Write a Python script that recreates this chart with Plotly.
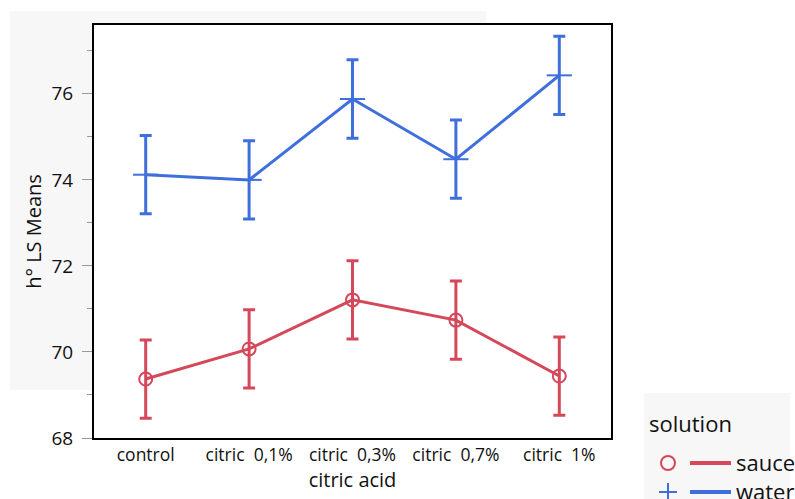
import plotly.graph_objects as go

# Least-squares means of hue angle (h°) by citric acid level and soaking solution
categories = ["control", "citric\u00a0 0,1%", "citric\u00a0 0,3%", "citric\u00a0 0,7%", "citric\u00a0 1%"]
sauce_means = [69.37, 70.07, 71.21, 70.74, 69.44]
sauce_err = [0.91, 0.91, 0.91, 0.91, 0.91]
water_means = [74.12, 74.00, 75.88, 74.48, 76.43]
water_err = [0.91, 0.91, 0.91, 0.91, 0.91]

SAUCE = "#d4485a"
WATER = "#3f6fdc"
FONT = "Open Sans"

fig = go.Figure()

fig.add_trace(go.Scatter(
    x=categories, y=sauce_means, name="sauce", mode="lines+markers",
    line=dict(color=SAUCE, width=3),
    marker=dict(symbol="circle-open", size=13, color=SAUCE, line=dict(width=2, color=SAUCE)),
    error_y=dict(type="data", array=sauce_err, color=SAUCE, thickness=3, width=6),
    showlegend=False,
))
fig.add_trace(go.Scatter(
    x=categories, y=water_means, name="water", mode="lines+markers",
    line=dict(color=WATER, width=3),
    marker=dict(symbol="line-ew-open", size=18, color=WATER, line=dict(width=2, color=WATER)),
    error_y=dict(type="data", array=water_err, color=WATER, thickness=3, width=6),
    showlegend=False,
))

# plot area: x 94..611 px, y 25..438 px
L, R, T, B = 94, 611, 25, 438
W, H = R - L, B - T
def px(x):
    return (x - L) / W
def py(y):
    return (B - y) / H

shapes = [
    # grey panel behind the axes
    dict(type="rect", xref="paper", yref="paper", x0=px(10), x1=px(486), y0=py(390), y1=py(11),
         fillcolor="#f7f7f7", line=dict(width=0), layer="below"),
    # white plotting area
    dict(type="rect", xref="paper", yref="paper", x0=0, x1=1, y0=0, y1=1,
         fillcolor="white", line=dict(width=0), layer="below"),
    # legend panel
    dict(type="rect", xref="paper", yref="paper", x0=px(644), x1=px(790), y0=py(520), y1=py(393),
         fillcolor="#f7f7f7", line=dict(width=0), layer="below"),
    # legend: sauce symbol and line
    dict(type="circle", xref="paper", yref="paper", xsizemode="pixel", ysizemode="pixel",
         xanchor=px(668), yanchor=py(463), x0=-7, x1=7, y0=-7, y1=7,
         line=dict(color=SAUCE, width=2), fillcolor="rgba(0,0,0,0)"),
    dict(type="line", xref="paper", yref="paper", x0=px(690), x1=px(731), y0=py(463), y1=py(463),
         line=dict(color=SAUCE, width=4)),
    # legend: water symbol and line
    dict(type="line", xref="paper", yref="paper", xsizemode="pixel", ysizemode="pixel",
         xanchor=px(668), yanchor=py(492), x0=-9, x1=9, y0=0, y1=0,
         line=dict(color=WATER, width=2)),
    dict(type="line", xref="paper", yref="paper", xsizemode="pixel", ysizemode="pixel",
         xanchor=px(668), yanchor=py(492), x0=0, x1=0, y0=-9, y1=9,
         line=dict(color=WATER, width=2)),
    dict(type="line", xref="paper", yref="paper", x0=px(690), x1=px(731), y0=py(492), y1=py(492),
         line=dict(color=WATER, width=4)),
]

annotations = [
    dict(text="solution", xref="paper", yref="paper", x=px(647), y=py(423),
         xanchor="left", yanchor="middle", showarrow=False, font=dict(size=22, color="#111")),
    dict(text="sauce", xref="paper", yref="paper", x=px(734), y=py(462),
         xanchor="left", yanchor="middle", showarrow=False, font=dict(size=22, color="#111")),
    dict(text="water", xref="paper", yref="paper", x=px(734), y=py(491),
         xanchor="left", yanchor="middle", showarrow=False, font=dict(size=22, color="#111")),
]

fig.update_layout(
    width=795, height=499,
    margin=dict(l=L, r=795 - R, t=T, b=499 - B, pad=0),
    paper_bgcolor="white",
    plot_bgcolor="rgba(0,0,0,0)",
    font=dict(family=FONT, size=15, color="#111"),
    shapes=shapes,
    annotations=annotations,
    xaxis=dict(
        range=[-0.5, 4.5], showgrid=False, zeroline=False,
        showline=True, linecolor="black", linewidth=2, mirror=True,
        ticks="", tickfont=dict(size=17.5),
        title=dict(text="citric acid", font=dict(size=20), standoff=8),
    ),
    yaxis=dict(
        range=[68, 77.6], showgrid=False, zeroline=False,
        showline=True, linecolor="black", linewidth=2, mirror=True,
        tickvals=[68, 70, 72, 74, 76], ticks="outside", ticklen=10,
        tickcolor="#999", tickwidth=1, tickfont=dict(size=19), ticklabelstandoff=5,
        minor=dict(dtick=1, tick0=68, ticks="outside", ticklen=5, tickcolor="#999", showgrid=False),
        title=dict(text="h° LS Means", font=dict(size=20), standoff=4),
    ),
)

fig.write_html("out.html")
